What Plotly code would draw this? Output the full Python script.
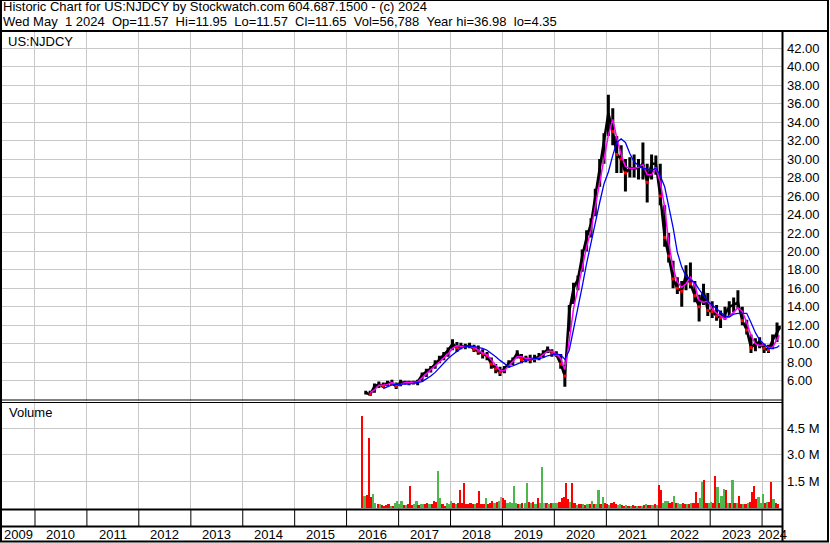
import plotly.graph_objects as go
import datetime as dt

W, H = 830, 543
FONT = "Liberation Sans, Arial, sans-serif"
GRID = "#c8c8c8"
TXT = "#000000"

def fx(px):
    return px / W

def fy(py):
    return 1 - py / H

# ---------------- data ----------------
header1 = "Historic Chart for US:NJDCY by Stockwatch.com 604.687.1500 - (c) 2024"
header2 = ("Wed May \u00a01 2024 \u00a0Op=11.57 \u00a0Hi=11.95 \u00a0Lo=11.57 \u00a0Cl=11.65"
           " \u00a0Vol=56,788 \u00a0Year hi=36.98 \u00a0lo=4.35")
symbol = "US:NJDCY"
year_labels = [2009, 2010, 2011, 2012, 2013, 2014, 2015, 2016, 2017, 2018, 2019,
               2020, 2021, 2022, 2023, 2024]
price_ticks = [6, 8, 10, 12, 14, 16, 18, 20, 22, 24, 26, 28, 30, 32, 34, 36, 38, 40, 42]
vol_ticks = [1.5, 3.0, 4.5]

# monthly bars, May 2016 .. Apr 2024, then May 1 2024
close = [4.7, 4.5, 5.4, 5.6, 5.4, 5.8, 5.7, 5.4,
         5.8, 5.8, 5.8, 5.8, 5.9, 6.6, 7.0, 7.3, 7.8, 8.3, 8.7, 9.3,
         10.0, 9.6, 9.7, 9.7, 9.8, 9.4, 9.2, 8.9, 8.7, 7.8, 7.3, 6.9,
         7.3, 7.9, 8.2, 9.0, 8.3, 8.4, 8.3, 8.4, 8.6, 8.9, 9.4, 9.0,
         8.8, 7.8, 6.5, 13.5, 16.0, 17.0, 19.5, 21.5, 23.0, 26.0, 29.0, 32.0,
         35.0, 33.0, 30.5, 30.0, 28.5, 29.0, 29.0, 29.0, 29.5, 27.5, 29.5, 29.5,
         26.0, 21.5, 19.5, 17.0, 16.0, 15.7, 17.5, 16.5, 15.2, 14.0, 15.8, 13.6,
         13.5, 13.0, 12.8, 13.2, 14.0, 14.2, 14.5, 12.5, 11.5, 9.6, 10.0, 10.2,
         9.5, 9.3, 10.4, 11.2, 11.65]
high = [4.9, 4.9, 5.7, 5.9, 5.8, 6.0, 6.1, 5.8,
        6.1, 6.0, 6.0, 6.0, 6.1, 6.9, 7.3, 7.6, 8.2, 8.7, 9.1, 9.6,
        10.5, 10.2, 10.1, 10.0, 10.1, 9.9, 9.8, 9.4, 9.1, 8.5, 7.8, 7.5,
        7.6, 8.2, 8.5, 9.3, 8.9, 8.7, 8.8, 8.8, 9.0, 9.3, 9.7, 9.4,
        9.2, 8.9, 7.7, 14.2, 16.6, 17.4, 20.2, 22.3, 23.6, 26.8, 30.0, 32.8,
        36.98, 35.5, 32.5, 31.5, 30.0, 30.2, 30.5, 30.0, 31.8, 29.5, 30.5, 30.4,
        29.5, 25.0, 22.0, 19.0, 17.2, 16.8, 18.5, 18.8, 16.8, 15.3, 16.5, 15.5,
        14.6, 14.2, 13.6, 14.0, 14.6, 15.0, 15.8, 14.0, 12.6, 11.0, 10.6, 10.7,
        10.0, 9.9, 11.0, 12.3, 11.95]
low = [4.5, 4.35, 4.7, 5.2, 5.2, 5.4, 5.5, 5.1,
       5.4, 5.6, 5.5, 5.6, 5.5, 5.9, 6.4, 6.9, 7.3, 7.9, 8.2, 8.6,
       9.3, 9.1, 9.4, 9.4, 9.5, 9.1, 8.8, 8.4, 8.2, 7.3, 6.8, 6.5,
       6.8, 7.4, 7.7, 8.4, 7.9, 8.0, 7.9, 8.0, 8.2, 8.5, 9.0, 8.6,
       8.6, 7.3, 5.35, 11.3, 14.3, 15.8, 17.8, 20.0, 21.5, 23.8, 27.0, 29.5,
       32.5, 31.5, 28.5, 28.5, 26.5, 28.0, 28.0, 27.8, 27.8, 25.3, 27.8, 28.3,
       25.0, 20.5, 18.8, 16.0, 15.4, 14.0, 15.8, 16.0, 14.5, 12.4, 14.2, 13.0,
       12.8, 12.5, 11.7, 12.6, 12.9, 13.4, 13.8, 12.0, 11.0, 9.0, 9.2, 9.5,
       9.0, 9.0, 9.4, 10.2, 11.57]
ma_short = [None, 4.7, 5.0, 5.5, 5.5, 5.6, 5.8, 5.6,
            5.6, 5.8, 5.8, 5.8, 5.85, 6.3, 6.8, 7.2, 7.6, 8.0, 8.5, 8.9,
            9.5, 9.8, 9.7, 9.7, 9.7, 9.6, 9.3, 9.0, 8.8, 8.2, 7.6, 7.1,
            7.1, 7.6, 8.0, 8.6, 8.6, 8.4, 8.4, 8.3, 8.5, 8.8, 9.2, 9.2,
            8.9, 8.4, 7.2, 10.3, 13.8, 16.0, 18.4, 20.5, 22.3, 24.9, 27.5, 30.0,
            32.6, 34.3, 32.3, 30.5, 29.2, 29.0, 29.0, 29.1, 29.4, 28.3, 28.3, 29.1,
            27.5, 24.8, 21.0, 18.2, 16.7, 16.1, 16.5, 17.2, 16.3, 14.7, 14.5, 14.6,
            13.8, 13.3, 13.0, 12.7, 13.0, 13.4, 13.9, 13.5, 12.3, 10.9, 10.0, 9.8,
            9.9, 9.6, 9.6, 10.4, 10.9]
ma_long = [None, None, None, None, 5.15, 5.35, 5.55, 5.6,
           5.6, 5.6, 5.65, 5.7, 5.8, 5.9, 6.2, 6.5, 6.9, 7.4, 7.9, 8.4,
           8.8, 9.2, 9.5, 9.7, 9.75, 9.7, 9.6, 9.5, 9.3, 9.0, 8.6, 8.2,
           7.8, 7.5, 7.6, 7.8, 8.0, 8.2, 8.3, 8.4, 8.4, 8.5, 8.7, 8.8,
           8.9, 8.8, 8.3, 9.3, 11.5, 13.8, 16.2, 18.7, 21.0, 23.3, 25.3, 27.3,
           28.6, 30.4, 31.8, 32.2, 31.8, 30.6, 29.7, 29.3, 29.0, 28.9, 28.8, 29.0,
           28.2, 27.0, 25.0, 22.6, 19.9, 18.3, 17.3, 16.9, 16.6, 15.9, 15.3, 14.6,
           14.2, 13.8, 13.5, 13.0, 12.9, 13.2, 13.3, 13.3, 13.3, 12.3, 11.2, 10.4,
           9.9, 9.5, 9.5, 9.6, 9.8]

# half-monthly volume (millions), 2nd half Apr 2016 .. 2nd half Apr 2024
vol_2016 = [5.21, 0.70, 0.75, 3.96, 0.60, 0.80, 0.30, 0.20, 0.20, 0.15, 0.10, 0.15,
            0.20, 0.10, 0.12, 0.30, 0.42]
col_2016 = "rgrrrggrgrrrrgrgg"
vol_2017 = [0.25, 0.37, 0.15, 0.15, 0.20, 1.23, 0.15, 0.20, 0.37, 0.15, 0.20, 0.20,
            0.25, 0.30, 0.20, 0.25, 0.42, 0.35, 2.10, 0.54, 0.20, 0.12, 0.30, 0.25]
col_2017 = "ggrgrrrggrggrrgrrrggrrgg"
vol_2018 = [0.37, 0.30, 0.25, 0.30, 1.00, 0.30, 1.40, 0.20, 0.20, 0.30, 0.25, 0.20,
            0.30, 0.94, 0.20, 0.20, 0.54, 0.25, 0.30, 0.40, 0.30, 0.35, 0.40, 0.60]
col_2018 = "grgrrrrrrrrgrrrrgrrrgrgx"
vol_2019 = [0.55, 0.45, 0.30, 0.35, 0.30, 1.23, 0.30, 0.25, 0.25, 0.30, 0.30, 1.40,
            0.35, 0.30, 0.35, 0.25, 0.55, 0.30, 2.33, 0.27, 0.30, 0.25, 0.30, 0.30]
col_2019 = "rrgggggrgrggrgrgrggxrgrg"
vol_2020 = [0.30, 0.27, 0.35, 0.55, 0.60, 1.40, 0.50, 0.35, 1.40, 0.30, 0.17, 0.20,
            0.20, 0.20, 0.15, 0.20, 0.20, 0.37, 0.20, 0.20, 1.00, 0.20, 0.60, 0.30]
col_2020 = "ggrrrrrgrrgrrgrgrgrggrgr"
vol_2021 = [0.20, 0.15, 0.30, 0.35, 0.20, 0.15, 0.20, 0.15, 0.12, 0.15, 0.12, 0.12,
            0.15, 0.12, 0.12, 0.12, 0.12, 0.15, 0.20, 0.15, 0.15, 0.15, 0.20, 0.15]
col_2021 = "rgrrrggrrgrgrrgrgrgrrgrg"
vol_2022 = [1.29, 1.00, 0.30, 0.37, 0.37, 0.30, 0.35, 0.70, 0.30, 0.30, 0.25, 0.30,
            0.25, 0.20, 0.20, 0.30, 0.30, 0.88, 0.30, 0.58, 1.46, 1.60, 0.30, 0.30]
col_2022 = "rrgggrrgrggrrgrgrrrggrrg"
vol_2023 = [0.35, 0.30, 1.80, 1.17, 0.30, 0.65, 1.06, 1.00, 0.30, 0.30, 1.60, 0.30,
            0.30, 0.65, 0.20, 0.20, 0.25, 0.30, 0.35, 0.88, 1.23, 0.50, 0.60, 0.30]
col_2023 = "grrgrggrgrgrgrrgrgrrrrgg"
vol_2024 = [0.80, 0.30, 0.35, 0.35, 1.46, 0.50, 0.30, 0.20]
col_2024 = "grgrrgrr"

# ---------------- dates ----------------
price_dates = []
for y in range(2016, 2025):
    for m in range(1, 13):
        if (y == 2016 and m < 5) or (y == 2024 and m > 4):
            continue
        price_dates.append(f"{y}-{m:02d}-15")
price_dates.append("2024-05-01")

vol_dates = ["2016-04-23"]
for y in range(2016, 2025):
    for m in range(1, 13):
        if (y == 2016 and m < 5) or (y == 2024 and m > 4):
            continue
        vol_dates.append(f"{y}-{m:02d}-08")
        vol_dates.append(f"{y}-{m:02d}-23")

volumes = vol_2016 + vol_2017 + vol_2018 + vol_2019 + vol_2020 + vol_2021 + vol_2022 + vol_2023 + vol_2024
vcodes = col_2016 + col_2017 + col_2018 + col_2019 + col_2020 + col_2021 + col_2022 + col_2023 + col_2024
cmap = {"r": "#ff0000", "g": "#4cb84c", "x": "#a8a8a8"}
vcolors = [cmap[c] for c in vcodes]

X0, X1 = "2009-05-14", "2024-05-20"
year_starts = [f"{y}-01-01" for y in year_labels[1:]]

# ---------------- traces ----------------
fig = go.Figure()

fig.add_trace(go.Scatter(x=price_dates, y=close, mode="lines",
                         line=dict(color="#000000", width=2.5), hoverinfo="skip"))

seg_x, seg_y = [], []
for d, lo_, hi_ in zip(price_dates, low, high):
    seg_x += [d, d, None]
    seg_y += [lo_, hi_, None]
fig.add_trace(go.Scatter(x=seg_x, y=seg_y, mode="lines",
                         line=dict(color="#000000", width=3), hoverinfo="skip"))

down_x = [price_dates[i] for i in range(1, len(close)) if close[i] < close[i - 1]]
down_y = [close[i] for i in range(1, len(close)) if close[i] < close[i - 1]]
fig.add_trace(go.Scatter(x=down_x, y=down_y, mode="markers",
                         marker=dict(color="#ff0000", size=3, symbol="square"),
                         hoverinfo="skip"))

fig.add_trace(go.Scatter(x=price_dates, y=ma_short, mode="lines",
                         line=dict(color="#ff00ff", width=1.5), connectgaps=False))
fig.add_trace(go.Scatter(x=price_dates, y=ma_long, mode="lines",
                         line=dict(color="#0000ff", width=1.3), connectgaps=False))

fig.add_trace(go.Bar(x=vol_dates, y=volumes, marker=dict(color=vcolors, line=dict(width=0)),
                     width=12 * 86400000, xaxis="x2", yaxis="y2"))

# ---------------- layout ----------------
axis_common = dict(type="date", range=[X0, X1], tickvals=year_starts, showticklabels=False,
                   showgrid=True, gridcolor=GRID, gridwidth=1, zeroline=False,
                   showline=False, ticks="", domain=[fx(2), fx(782)])

fig.update_layout(
    width=W, height=H, margin=dict(l=0, r=0, t=0, b=0),
    paper_bgcolor="white", plot_bgcolor="white", showlegend=False,
    xaxis=dict(axis_common, anchor="y"),
    xaxis2=dict(axis_common, anchor="y2", matches="x"),
    yaxis=dict(domain=[fy(400.5), fy(32)], range=[3.854, 43.765], side="right",
               tickvals=price_ticks, ticktext=[f"{v:.2f}" for v in price_ticks],
               showgrid=True, gridcolor=GRID, gridwidth=1, zeroline=False,
               ticks="", showline=False, anchor="x", ticklabelstandoff=4,
               tickfont=dict(family=FONT, size=13, color=TXT)),
    yaxis2=dict(domain=[fy(508.5), fy(403)], range=[-0.03, 5.93], side="right",
                tickvals=vol_ticks, ticktext=[f"{v:.1f} M" for v in vol_ticks],
                showgrid=True, gridcolor=GRID, gridwidth=1, zeroline=False,
                ticks="", showline=False, anchor="x2", ticklabelstandoff=4,
                tickfont=dict(family=FONT, size=13, color=TXT)),
    bargap=0,
)

shapes = []
def pline(x0, y0, x1, y1, w=1):
    shapes.append(dict(type="line", xref="paper", yref="paper", x0=fx(x0), y0=fy(y0),
                       x1=fx(x1), y1=fy(y1), line=dict(color="black", width=w)))

pline(1, 0.5, 828.5, 0.5, 1)        # top
pline(1, 0, 1, 542, 2)              # left
pline(828, 0, 828, 542, 2)          # right
pline(0, 541.5, 829, 541.5, 2)      # bottom
pline(0, 31, 829, 31, 2)            # header bottom
pline(782.5, 31, 782.5, 542, 2)     # right axis
pline(0, 400, 782, 400, 1)          # double line
pline(0, 402.5, 782, 402.5, 1)
pline(0, 509.5, 782, 509.5, 2)      # volume bottom
pline(0, 526.5, 782, 526.5, 2)      # year row line
for ys in year_starts:
    shapes.append(dict(type="line", xref="x", yref="paper", x0=ys, x1=ys,
                       y0=fy(510), y1=fy(526), line=dict(color="black", width=1)))
fig.update_layout(shapes=shapes)

ann = []
ann.append(dict(xref="paper", yref="paper", x=fx(1), y=fy(7), xanchor="left", yanchor="middle",
                text=header1, showarrow=False, font=dict(family=FONT, size=13, color=TXT)))
ann.append(dict(xref="paper", yref="paper", x=fx(1), y=fy(21), xanchor="left", yanchor="middle",
                text=header2, showarrow=False, font=dict(family=FONT, size=13, color=TXT)))
ann.append(dict(xref="paper", yref="paper", x=fx(6), y=fy(41), xanchor="left", yanchor="middle",
                text=symbol, showarrow=False, font=dict(family=FONT, size=13, color=TXT)))
ann.append(dict(xref="paper", yref="paper", x=fx(7), y=fy(413), xanchor="left", yanchor="middle",
                text="Volume", showarrow=False, font=dict(family=FONT, size=13, color=TXT)))

def todt(s):
    return dt.datetime.strptime(s, "%Y-%m-%d")
lo_d, hi_d = todt(X0), todt(X1)
for y in year_labels:
    a = max(todt(f"{y}-01-01"), lo_d)
    b = min(todt(f"{y + 1}-01-01"), hi_d)
    mid = a + (b - a) / 2
    ann.append(dict(xref="x", yref="paper", x=mid.strftime("%Y-%m-%d"), y=fy(534),
                    xanchor="center", yanchor="middle", text=str(y), showarrow=False,
                    font=dict(family=FONT, size=13, color=TXT)))
fig.update_layout(annotations=ann)

fig.write_html("out.html",
               config={"displayModeBar": False},
               post_script="document.body.style.margin='0px';"
                           "document.body.style.overflow='hidden';")
